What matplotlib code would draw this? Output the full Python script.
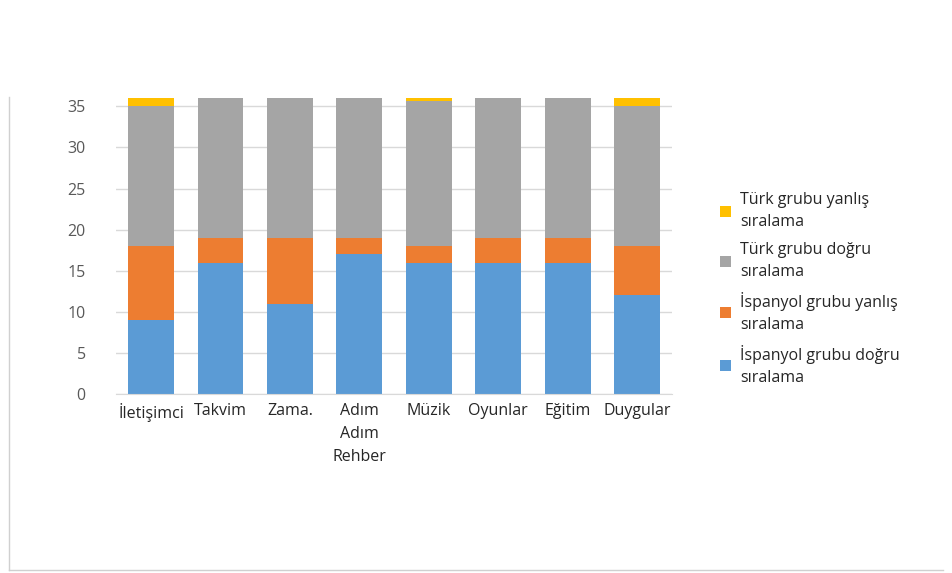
import matplotlib.pyplot as plt
from matplotlib.lines import Line2D

plt.rcParams['font.family'] = ['Open Sans', 'DejaVu Sans']

categories = ['İletişimci', 'Takvim', 'Zama.', 'Adım\nAdım\nRehber', 'Müzik',
              'Oyunlar', 'Eğitim', 'Duygular']
ispanyol_dogru = [9, 16, 11, 17, 16, 16, 16, 12]
ispanyol_yanlis = [9, 3, 8, 2, 2, 3, 3, 6]
turk_dogru = [17, 18, 18, 18, 17.6, 18, 18, 17]
turk_yanlis = [1, 0, 0, 0, 1, 0, 0, 1]

labels = ['İspanyol grubu doğru\nsıralama', 'İspanyol grubu yanlış\nsıralama',
          'Türk grubu doğru\nsıralama', 'Türk grubu yanlış\nsıralama']
colors = ['#5B9BD5', '#ED7D31', '#A5A5A5', '#FFC000']

fig = plt.figure(figsize=(9.53, 5.73), dpi=100)
ax = fig.add_axes([0.122, 0.312, 0.583, 0.517])

x = range(len(categories))
bottom = [0] * len(categories)
handles = []
for vals, lbl, c in zip([ispanyol_dogru, ispanyol_yanlis, turk_dogru, turk_yanlis], labels, colors):
	b = ax.bar(x, vals, 0.66, bottom=bottom, color=c, label=lbl, zorder=2)
	handles.append(b)
	bottom = [p + q for p, q in zip(bottom, vals)]

ax.set_ylim(0, 36)
ax.set_xlim(-0.5, len(categories) - 0.5)
ax.set_yticks(range(0, 36, 5))
ax.set_xticks(list(x))
ax.set_xticklabels(categories, fontsize=11.5, color='#262626', linespacing=1.6)
ax.tick_params(axis='y', labelsize=11.5, labelcolor='#595959', length=0, pad=22)
ax.tick_params(axis='x', length=0, pad=6)
ax.grid(axis='y', color='#D9D9D9', linewidth=1, zorder=0)
for s in ['top', 'right', 'left']:
	ax.spines[s].set_visible(False)
ax.spines['bottom'].set_color('#D9D9D9')

leg = fig.legend(handles[::-1], labels[::-1], loc='upper left',
                 bbox_to_anchor=(0.74, 0.69), frameon=False, fontsize=11.5,
                 handlelength=0.7, handleheight=0.7, handletextpad=0.6,
                 labelspacing=0.75, labelcolor='#262626')
for t in leg.get_texts():
	t.set_linespacing(1.5)

# chart frame edges
fig.add_artist(Line2D([0.009, 0.009], [0.005, 0.83], color='#D0D0D0', lw=1))
fig.add_artist(Line2D([0.009, 0.99], [0.005, 0.005], color='#D0D0D0', lw=1))

fig.savefig('out.png', dpi=100)
